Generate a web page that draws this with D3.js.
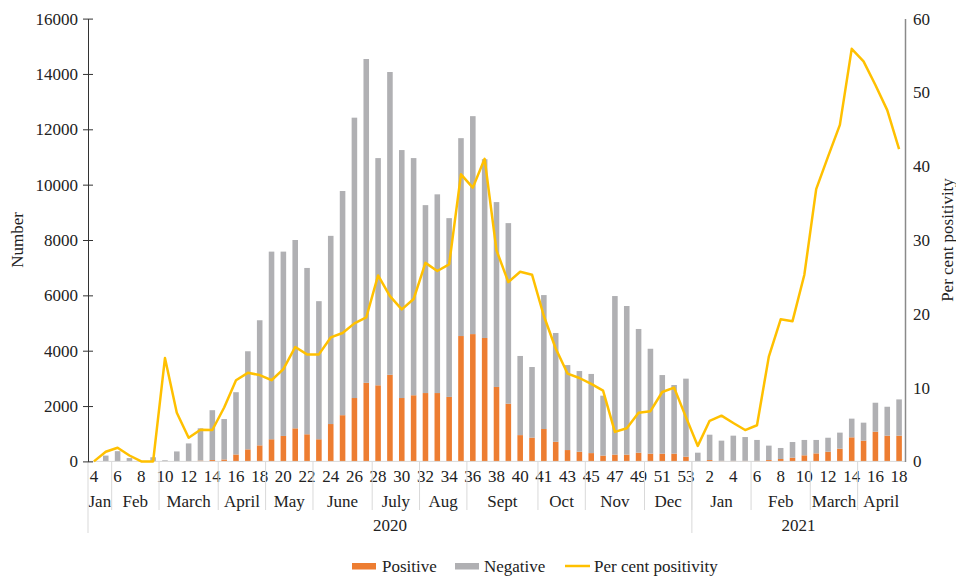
<!DOCTYPE html>
<html>
<head>
<meta charset="utf-8">
<script src="https://cdn.jsdelivr.net/npm/d3@7"></script>
<style>
  body { margin: 0; background: #fff; }
  svg text { font-family: "Liberation Serif", "Times New Roman", serif; font-size: 17px; fill: #222; }
</style>
</head>
<body>
<div class="chart"></div>
<script>
// week labels along the bottom (2020 wk4 .. 2021 wk18)
const weeks = ['4','5','6','7','8','9','10','11','12','13','14','15','16','17','18','19','20','21','22','23','24','25','26','27','28','29','30','31','32','33','34','35','36','37','38','39','40','40','41','42','43','44','45','46','47','48','49','50','51','52','53',
  '1','2','3','4','5','6','7','8','9','10','11','12','13','14','15','16','17','18']
const months = ['Jan','Feb','March','April','May','June','July','Aug','Sept','Oct','Nov','Dec','Jan','Feb','March','April']
const monthSpans = [2,4,5,4,4,5,4,4,6,4,5,4,5,5,4,4]
const years = ['2020','2021']
const yearSpans = [51,18]

const positive = [0,0,0,0,0,0,5,0,10,30,50,70,250,435,580,800,920,1195,980,800,1350,1670,2290,2840,2750,3130,2290,2390,2470,2470,2330,4530,4600,4460,2690,2085,950,860,1170,710,410,350,300,210,245,245,315,280,280,280,170,
  0,50,20,20,20,20,50,87,135,220,290,350,460,870,750,1075,930,930]
const negative = [0,210,370,120,0,150,35,360,640,1165,1800,1460,2250,3545,4520,6780,6660,6805,6010,4990,6800,8100,10130,11700,8210,10940,8960,8570,6790,7180,6460,7150,7875,6460,6680,6525,2860,2550,4840,3930,3070,2915,2860,2165,5730,5370,4470,3790,2840,2480,2820,
  315,915,730,910,860,755,520,398,565,555,485,505,580,675,650,1045,1045,1310]
const positivity = [0,1.3,1.85,0.8,0,0,14.0,6.6,3.2,4.3,4.25,7.3,11.0,12.0,11.7,11.0,12.5,15.5,14.5,14.5,16.8,17.4,18.7,19.5,25.2,22.4,20.6,22.0,26.9,25.8,26.7,38.9,37.1,41.0,28.6,24.3,25.7,25.3,19.7,15.3,11.9,11.3,10.5,9.6,4.0,4.5,6.6,6.8,9.4,10.0,6.0,
  2.1,5.5,6.2,5.2,4.25,4.9,14.2,19.25,19.0,25.3,36.9,41.3,45.6,55.9,54.2,51.0,47.6,42.3]

const colors = { pos: '#ED7D31', neg: '#B0B0B3', line: '#FFC000' }
const serif = '"Liberation Serif", "Times New Roman", serif'

const width = 956
const height = 577
const plotLeft = 88, plotRight = 905, plotTop = 18.6, plotBottom = 461.4

const svg = d3.select('.chart').append('svg')
  .attr('width', width)
  .attr('height', height)
  .attr('font-family', serif)

const idx = d3.range(weeks.length)
const x = d3.scaleBand().domain(idx).range([plotLeft, plotRight]).paddingInner(0.53).paddingOuter(0.265)
const y = d3.scaleLinear().domain([0, 16000]).range([plotBottom, plotTop])
const y2 = d3.scaleLinear().domain([0, 60]).range([plotBottom, plotTop])

// stacked bars
const stackData = idx.map(i => ({ i: i, pos: positive[i], neg: negative[i] }))
const series = d3.stack().keys(['pos', 'neg'])(stackData)

svg.append('g').selectAll('g')
  .data(series)
  .enter().append('g')
  .attr('fill', d => colors[d.key])
  .selectAll('rect')
  .data(d => d)
  .enter().append('rect')
  .attr('x', d => x(d.data.i))
  .attr('width', x.bandwidth())
  .attr('y', d => y(d[1]))
  .attr('height', d => y(d[0]) - y(d[1]))

// category axis line
svg.append('line')
  .attr('x1', plotLeft).attr('x2', plotRight)
  .attr('y1', plotBottom).attr('y2', plotBottom)
  .attr('stroke', '#d9d9d9').attr('stroke-width', 1)

// week labels (every other one)
const xAxis = d3.axisBottom(x).tickSize(0).tickPadding(9)
  .tickFormat(i => i % 2 === 0 ? weeks[i] : '')
const gx = svg.append('g').attr('transform', `translate(0,${plotBottom})`).call(xAxis)
gx.attr('font-family', serif)
gx.select('.domain').remove()

// month and year groups
const step = x.step()
let cum = 0
months.forEach((m, k) => {
  const x0 = plotLeft + cum * step
  cum += monthSpans[k]
  const x1 = plotLeft + cum * step
  svg.append('text')
    .attr('x', (x0 + x1) / 2).attr('y', 507)
    .attr('text-anchor', 'middle')
    .text(m)
  if (cum < weeks.length) {
    svg.append('line')
      .attr('x1', x1).attr('x2', x1)
      .attr('y1', plotBottom).attr('y2', 510)
      .attr('stroke', '#d9d9d9')
  }
})
cum = 0
years.forEach((yr, k) => {
  const x0 = plotLeft + cum * step
  cum += yearSpans[k]
  const x1 = plotLeft + cum * step
  svg.append('text')
    .attr('x', (x0 + x1) / 2).attr('y', 531)
    .attr('text-anchor', 'middle')
    .text(yr)
  svg.append('line')
    .attr('x1', x0).attr('x2', x0)
    .attr('y1', plotBottom).attr('y2', 533)
    .attr('stroke', '#d9d9d9')
})

// left axis
const gy = svg.append('g').attr('transform', `translate(${plotLeft},0)`)
  .call(d3.axisLeft(y).tickValues(d3.range(0, 16001, 2000)).tickSize(0).tickPadding(10).tickFormat(d3.format('d')))
gy.attr('font-family', serif)
gy.select('.domain').attr('stroke', '#333')
gy.selectAll('.tick').append('line')
  .attr('x1', -5).attr('x2', 5).attr('stroke', '#333')

// right axis
const gy2 = svg.append('g').attr('transform', `translate(${plotRight},0)`)
  .call(d3.axisRight(y2).tickValues(d3.range(0, 61, 10)).tickSize(0).tickPadding(8))
gy2.attr('font-family', serif)
gy2.select('.domain').attr('stroke', '#8a8a8a').attr('stroke-width', 1.5)

// positivity line
const line = d3.line()
  .x((d, i) => x(i) + x.bandwidth() / 2)
  .y(d => y2(d))
svg.append('path')
  .datum(positivity)
  .attr('fill', 'none')
  .attr('stroke', colors.line)
  .attr('stroke-width', 2.5)
  .attr('stroke-linejoin', 'round')
  .attr('d', line)

// axis titles
svg.append('text')
  .attr('transform', 'translate(23,240) rotate(-90)')
  .attr('text-anchor', 'middle')
  .text('Number')
svg.append('text')
  .attr('transform', 'translate(953,240) rotate(-90)')
  .attr('text-anchor', 'middle')
  .text('Per cent positivity')

// legend
const lg = svg.append('g')
lg.append('rect').attr('x', 352).attr('y', 563).attr('width', 24).attr('height', 6.5).attr('fill', colors.pos)
lg.append('text').attr('x', 382).attr('y', 572).text('Positive')
lg.append('rect').attr('x', 455).attr('y', 563).attr('width', 24).attr('height', 6.5).attr('fill', colors.neg)
lg.append('text').attr('x', 484).attr('y', 572).text('Negative')
lg.append('line').attr('x1', 565).attr('x2', 590).attr('y1', 566).attr('y2', 566)
  .attr('stroke', colors.line).attr('stroke-width', 2.5)
lg.append('text').attr('x', 594).attr('y', 572).text('Per cent positivity')
</script>
</body>
</html>
